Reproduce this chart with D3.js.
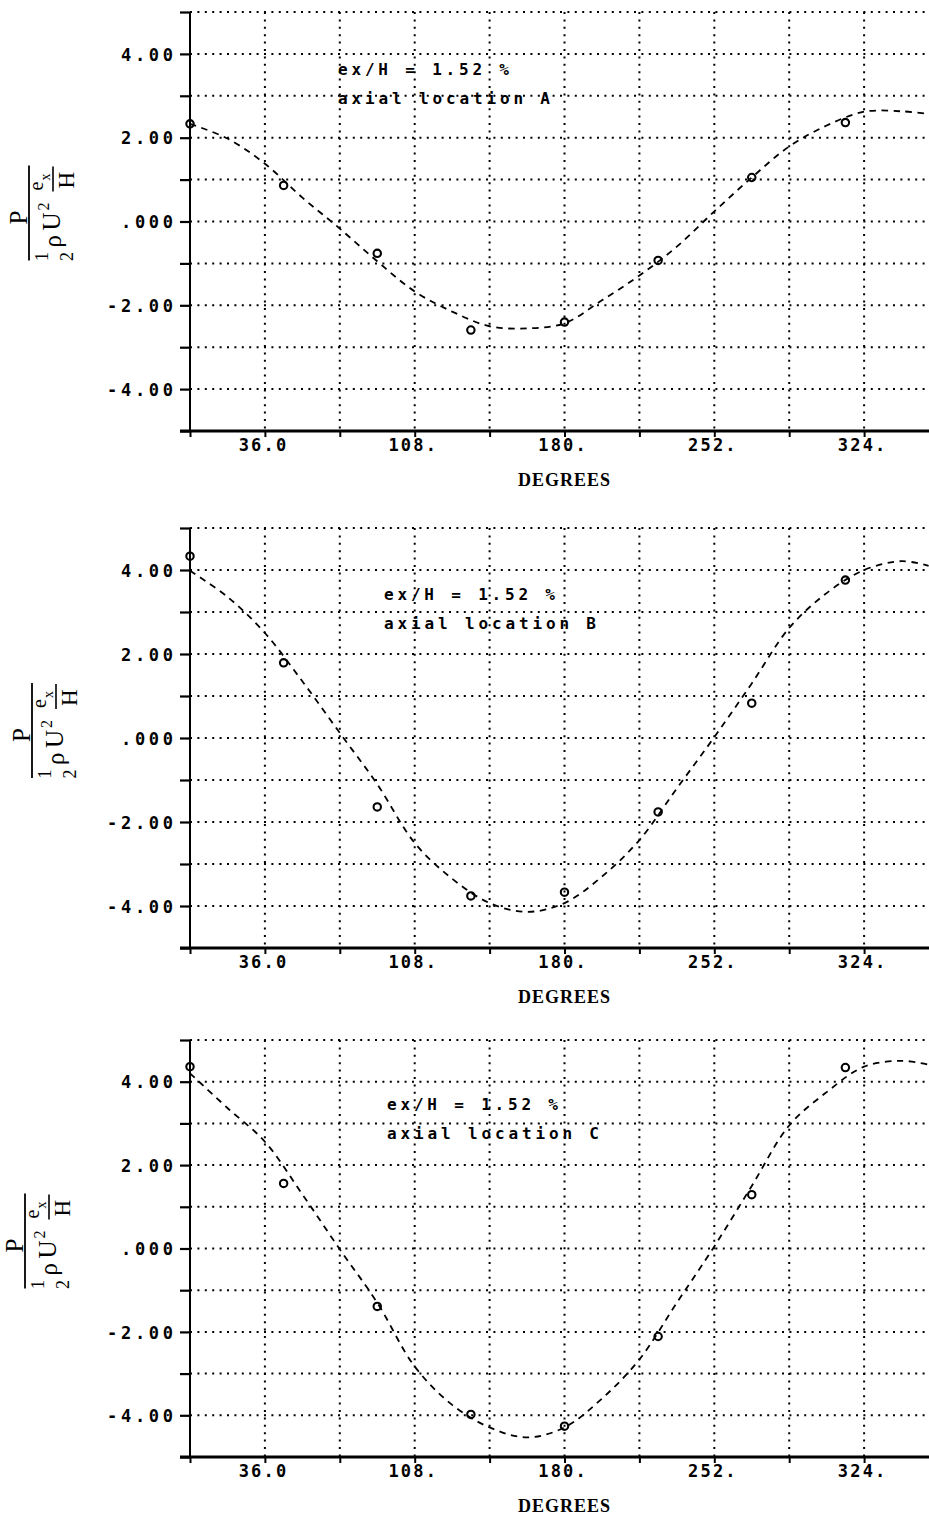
<!DOCTYPE html>
<html>
<head>
<meta charset="utf-8">
<script src="https://cdn.jsdelivr.net/npm/d3@7"></script>
<style>
  html, body { margin: 0; padding: 0; background: #fff; }
  svg { display: block; }
</style>
</head>
<body>
<script>
// Measured wall pressure around the circumference, three axial locations
const degrees = [0, 45, 90, 135, 180, 225, 270, 315];
const pressureA = [2.33, 0.86, -0.76, -2.59, -2.40, -0.93, 1.05, 2.36];
const pressureB = [4.33, 1.79, -1.64, -3.76, -3.67, -1.76, 0.83, 3.76];
const pressureC = [4.36, 1.56, -1.39, -3.98, -4.26, -2.11, 1.29, 4.34];

// Fitted curve, read at these angles
const fitDegrees = [0, 18, 36, 54, 72, 90, 108, 126, 144, 162, 180, 198, 216, 234, 252, 270, 288, 306, 324, 342, 355];
const fitA = [2.33, 1.98, 1.38, 0.57, -0.17, -0.95, -1.67, -2.15, -2.5, -2.55, -2.43, -1.88, -1.29, -0.6, 0.24, 1.05, 1.79, 2.29, 2.62, 2.63, 2.57];
const fitB = [3.98, 3.36, 2.5, 1.35, 0.12, -1.1, -2.5, -3.35, -3.93, -4.14, -3.93, -3.3, -2.43, -1.2, 0.02, 1.3, 2.62, 3.45, 4.0, 4.21, 4.1];
const fitC = [4.2, 3.37, 2.56, 1.3, -0.02, -1.3, -2.83, -3.75, -4.29, -4.53, -4.29, -3.6, -2.66, -1.3, 0.05, 1.5, 2.95, 3.75, 4.36, 4.5, 4.41];

const yTickValues = [4, 2, 0, -2, -4];
const yTickLabels = ["4.00", "2.00", ".000", "-2.00", "-4.00"];
const xTickValues = [36, 108, 180, 252, 324];
const xTickLabels = ["36.0", "108.", "180.", "252.", "324."];

const caption = "ex/H = 1.52 %";
const locations = ["axial location A", "axial location B", "axial location C"];

const W = 929, H = 1520;
const mono = "'DejaVu Sans Mono', 'Liberation Mono', monospace";
const serif = "'Liberation Serif', 'DejaVu Serif', serif";

const svg = d3.select("body").append("svg")
  .attr("width", W).attr("height", H)
  .attr("viewBox", `0 0 ${W} ${H}`);
svg.append("rect").attr("width", W).attr("height", H).attr("fill", "#fff");

const panels = [
  { top: 12,   bottom: 431,  points: pressureA, fit: fitA, loc: locations[0], capX: 338, capDy: 63, labX: 29, labDy: -9 },
  { top: 528,  bottom: 948,  points: pressureB, fit: fitB, loc: locations[1], capX: 384, capDy: 72, labX: 32, labDy: -8 },
  { top: 1040, bottom: 1457, points: pressureC, fit: fitC, loc: locations[2], capX: 387, capDy: 70, labX: 25, labDy: -8 }
];

const x = d3.scaleLinear().domain([0, 360]).range([190, 939]);
const dotted = "2,5.4";

panels.forEach(p => {
  const y = d3.scaleLinear().domain([-5, 5]).range([p.bottom, p.top]);
  const g = svg.append("g");

  // dotted grid
  g.append("g").selectAll("line").data(d3.range(-4, 6)).join("line")
    .attr("x1", x(0)).attr("x2", W)
    .attr("y1", d => y(d)).attr("y2", d => y(d))
    .attr("stroke", "#000").attr("stroke-width", 2).attr("stroke-dasharray", dotted);
  g.append("g").selectAll("line").data(d3.range(36, 360, 36)).join("line")
    .attr("x1", d => x(d)).attr("x2", d => x(d))
    .attr("y1", y(5)).attr("y2", y(-5))
    .attr("stroke", "#000").attr("stroke-width", 2).attr("stroke-dasharray", dotted);

  // y axis ticks + labels
  const labelOf = new Map(yTickValues.map((v, i) => [v, yTickLabels[i]]));
  const ya = g.append("g").attr("transform", `translate(${x(0)},0)`)
    .call(d3.axisLeft(y).tickValues(d3.range(-5, 6)).tickSize(10).tickPadding(7)
      .tickFormat(v => labelOf.get(v) || ""));
  ya.select(".domain").remove();
  ya.selectAll(".tick line").attr("stroke", "#000").attr("stroke-width", 2.2);
  ya.selectAll(".tick text")
    .attr("fill", "#000").attr("font-family", mono).attr("font-weight", "bold")
    .attr("font-size", 17).attr("dy", "0.36em")
    .each(function () {
      const t = this.textContent;
      if (t) d3.select(this).attr("textLength", (t.length - 1) * 14 + 10).attr("lengthAdjust", "spacing");
    });

  // x axis ticks + labels
  const xLabelOf = new Map(xTickValues.map((v, i) => [v, xTickLabels[i]]));
  const xa = g.append("g").attr("transform", `translate(0,${y(-5)})`)
    .call(d3.axisBottom(x).tickValues(d3.range(0, 360, 36)).tickSize(6)
      .tickFormat(v => xLabelOf.get(v) || ""));
  xa.select(".domain").remove();
  xa.selectAll(".tick line").attr("stroke", "#000").attr("stroke-width", 2);
  xa.selectAll(".tick text")
    .attr("fill", "#000").attr("font-family", mono).attr("font-weight", "bold")
    .attr("font-size", 17).attr("y", 14).attr("dy", "0.36em").attr("x", -3)
    .each(function () {
      const t = this.textContent;
      if (t) d3.select(this).attr("textLength", (t.length - 1) * 12.5 + 10).attr("lengthAdjust", "spacing");
    });

  // axis lines
  g.append("line").attr("x1", x(0) - 10).attr("x2", W)
    .attr("y1", y(-5)).attr("y2", y(-5))
    .attr("stroke", "#000").attr("stroke-width", 2.8);
  g.append("line").attr("x1", x(0)).attr("x2", x(0))
    .attr("y1", y(5)).attr("y2", y(-5))
    .attr("stroke", "#000").attr("stroke-width", 2);

  // fitted curve
  const line = d3.line().x(d => x(d[0])).y(d => y(d[1])).curve(d3.curveCatmullRom.alpha(0.5));
  g.append("path")
    .datum(fitDegrees.map((d, i) => [d, p.fit[i]]))
    .attr("d", line)
    .attr("fill", "none").attr("stroke", "#000").attr("stroke-width", 1.8)
    .attr("stroke-dasharray", "6.5,5.5");

  // measured points
  g.append("g").selectAll("circle").data(degrees.map((d, i) => [d, p.points[i]])).join("circle")
    .attr("cx", d => x(d[0])).attr("cy", d => y(d[1])).attr("r", 3.7)
    .attr("fill", "none").attr("stroke", "#000").attr("stroke-width", 2.1);

  // caption
  g.append("text").attr("x", p.capX).attr("y", p.top + p.capDy)
    .attr("font-family", mono).attr("font-weight", "bold").attr("font-size", 16)
    .attr("textLength", 171).attr("lengthAdjust", "spacing").text(caption);
  g.append("text").attr("x", p.capX).attr("y", p.top + p.capDy + 29)
    .attr("font-family", mono).attr("font-weight", "bold").attr("font-size", 16)
    .attr("textLength", 212).attr("lengthAdjust", "spacing").text(p.loc);

  // x axis title
  g.append("text").attr("x", x(180)).attr("y", p.bottom + 55)
    .attr("text-anchor", "middle").attr("font-family", serif).attr("font-weight", "bold")
    .attr("font-size", 18).attr("letter-spacing", 1).text("DEGREES");

  // y axis title: P / (1/2 rho U^2 e_x/H), rotated
  const cy = (p.top + p.bottom) / 2 + p.labDy;
  const lab = g.append("g").attr("transform", `translate(${p.labX},${cy}) rotate(-90)`)
    .attr("font-family", serif).attr("fill", "#000");
  lab.append("text").attr("x", -5).attr("y", -2).attr("text-anchor", "middle").attr("font-size", 25).text("P");
  lab.append("line").attr("x1", -48).attr("x2", 47).attr("y1", 0).attr("y2", 0).attr("stroke", "#000").attr("stroke-width", 1.8);
  lab.append("text").attr("x", -44).attr("y", 19).attr("text-anchor", "middle").attr("font-size", 18).text("1");
  lab.append("text").attr("x", -44).attr("y", 44).attr("text-anchor", "middle").attr("font-size", 18).text("2");
  lab.append("text").attr("x", -35).attr("y", 32).attr("font-size", 25).text("ρ");
  lab.append("text").attr("x", -18).attr("y", 31).attr("font-size", 25).text("U");
  lab.append("text").attr("x", 2).attr("y", 20).attr("font-size", 16).text("2");
  lab.append("text").attr("x", 22).attr("y", 14).attr("font-size", 20).text("e");
  lab.append("text").attr("x", 32).attr("y", 21).attr("font-size", 14).text("x");
  lab.append("line").attr("x1", 21).attr("x2", 46).attr("y1", 24).attr("y2", 24).attr("stroke", "#000").attr("stroke-width", 1.6);
  lab.append("text").attr("x", 24).attr("y", 45).attr("font-size", 23).text("H");
});
</script>
</body>
</html>
